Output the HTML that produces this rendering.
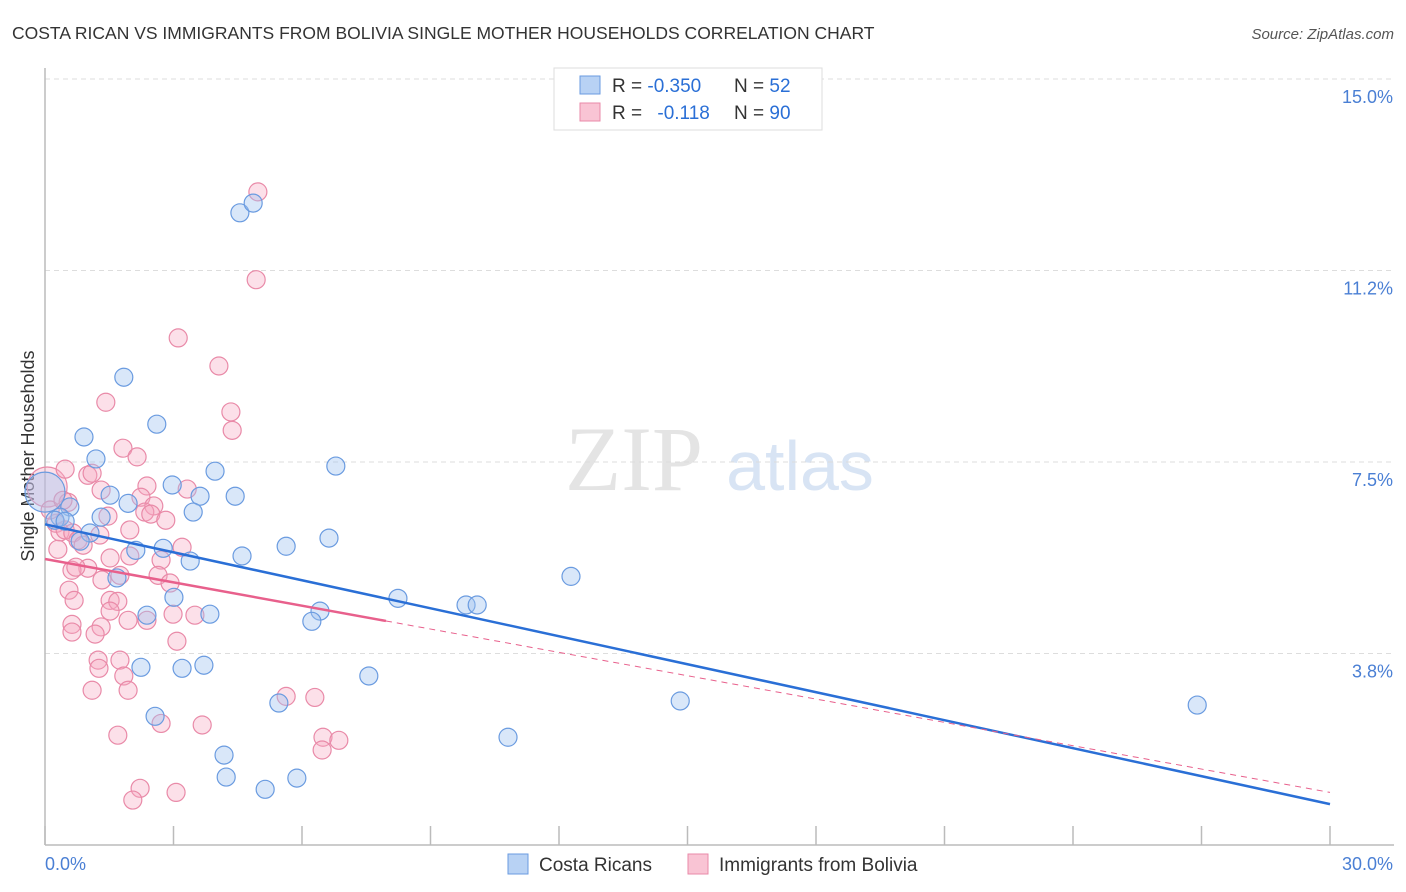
<!DOCTYPE html>
<html><head><meta charset="utf-8"><style>
body{margin:0;background:#fff;font-family:"Liberation Sans",sans-serif;}
#wrap{position:relative;width:1406px;height:892px;overflow:hidden;}
</style></head><body>
<div id="wrap">
<svg id="chart" width="1406" height="892">
<text x="12" y="39" font-size="17.5" fill="#333">COSTA RICAN VS IMMIGRANTS FROM BOLIVIA SINGLE MOTHER HOUSEHOLDS CORRELATION CHART</text>
<text x="1394" y="39" font-size="15" fill="#555" font-style="italic" text-anchor="end">Source: ZipAtlas.com</text>
<text x="634" y="490" font-size="92" fill="#e4e4e4" font-family="Liberation Serif,serif" text-anchor="middle">ZIP</text>
<text x="800" y="490" font-size="70" fill="#d8e4f4" text-anchor="middle">atlas</text>
<text transform="translate(34,456) rotate(-90)" font-size="18" fill="#333" text-anchor="middle">Single Mother Households</text>
<g id="grid"></g><g id="pts"></g><g id="lines"></g>
<g>
<rect x="554" y="68" width="268" height="62" fill="#fff" stroke="#ddd"/>
<rect x="580" y="76" width="20" height="18" fill="#b8d2f4" stroke="#6a9be0"/>
<rect x="580" y="103" width="20" height="18" fill="#f9c4d4" stroke="#e98aa8"/>
<text x="612" y="92" font-size="19" fill="#333">R = <tspan fill="#2a6fd6">-0.350</tspan></text>
<text x="734" y="92" font-size="19" fill="#333">N = <tspan fill="#2a6fd6">52</tspan></text>
<text x="612" y="119" font-size="19" fill="#333">R = <tspan fill="#2a6fd6" dx="10">-0.118</tspan></text>
<text x="734" y="119" font-size="19" fill="#333">N = <tspan fill="#2a6fd6">90</tspan></text>
</g>
<g>
<rect x="508" y="854" width="20" height="20" fill="#b8d2f4" stroke="#6a9be0"/>
<text x="539" y="871" font-size="19" fill="#333">Costa Ricans</text>
<rect x="688" y="854" width="20" height="20" fill="#f9c4d4" stroke="#e98aa8"/>
<text x="719" y="871" font-size="19" fill="#333">Immigrants from Bolivia</text>
</g>
</svg>
</div>
<script>
const yTicks=[3.75,7.5,11.25,15];
const yTickLabels=["3.8%","7.5%","11.2%","15.0%"];
const xTicks=[0,3,6,9,12,15,18,21,24,27,30];
const xEndLabels=["0.0%","30.0%"];
const costaX=[0,4.55,4.86,1.84,0.91,2.61,1.19,3.97,6.79,2.97,1.52,3.62,4.44,1.94,3.46,1.31,0.58,0.35,0.23,1.05,0.82,2.12,2.76,4.60,5.63,6.63,3.39,1.68,12.28,8.24,3.01,9.83,10.09,6.42,6.23,2.38,3.85,2.24,3.20,3.71,7.56,5.46,14.83,26.90,2.57,10.81,4.18,4.23,5.88,5.14,0.47];
const costaY=[6.91,12.38,12.57,9.16,7.99,8.24,7.56,7.32,7.42,7.05,6.85,6.83,6.83,6.69,6.52,6.42,6.62,6.42,6.36,6.11,5.95,5.77,5.81,5.66,5.85,6.01,5.56,5.23,5.26,4.83,4.85,4.70,4.70,4.58,4.38,4.50,4.52,3.48,3.46,3.52,3.31,2.78,2.82,2.74,2.52,2.11,1.76,1.33,1.31,1.09,6.34];
const bolX=[0.05,4.97,4.93,3.11,4.06,1.42,4.34,4.37,1.82,2.15,0.47,1.00,1.10,1.31,2.38,3.32,2.24,2.54,2.33,2.47,0.54,1.47,0.26,0.35,0.47,0.65,0.77,0.30,0.89,1.98,2.71,1.52,3.20,2.64,1.00,0.63,0.72,1.33,1.75,2.92,0.56,1.52,1.70,0.68,1.94,2.99,3.50,1.52,0.63,0.63,1.31,1.17,3.08,1.24,1.26,1.75,1.10,1.84,1.94,5.63,6.30,1.70,2.71,3.67,6.49,6.47,6.86,2.22,2.05,3.06,0.12,0.42,1.28,2.82,1.98,2.38];
const bolY=[7.01,12.79,11.07,9.93,9.38,8.67,8.48,8.12,7.77,7.60,7.36,7.24,7.28,6.95,7.03,6.97,6.81,6.64,6.52,6.48,6.71,6.44,6.30,6.13,6.17,6.11,5.97,5.79,5.87,6.17,5.58,5.62,5.83,5.28,5.42,5.38,5.44,5.19,5.28,5.13,4.99,4.79,4.77,4.79,4.40,4.52,4.50,4.58,4.32,4.17,4.27,4.13,3.99,3.62,3.46,3.62,3.03,3.31,3.03,2.91,2.89,2.15,2.38,2.35,2.11,1.86,2.05,1.11,0.88,1.03,6.56,6.75,6.07,6.36,5.66,4.40];
const costaTrend=[6.28,0.80];
const bolTrend=[5.60,1.03];
const bolSolidEnd=7.96;

const NS="http://www.w3.org/2000/svg";
const X0=45,X1=1330,Y0=845,Ytop=79;
const xs=v=>X0+(X1-X0)*v/30;
const ys=v=>Y0-(Y0-Ytop)*v/15;
function mk(tag,attrs,parent){const e=document.createElementNS(NS,tag);for(const k in attrs)e.setAttribute(k,attrs[k]);parent.appendChild(e);return e;}
const svg=document.getElementById('chart');
const grid=document.getElementById('grid');
yTicks.forEach((t,i)=>{
  const l=mk('line',{x1:X0,x2:1394,y1:ys(t),y2:ys(t),stroke:'#ddd','stroke-dasharray':'5,4'},grid);
  
  
  const tx=mk('text',{x:1393,y:ys(t)+24,'font-size':18,fill:'#4a7fd4','text-anchor':'end'},grid);
  tx.textContent=yTickLabels[i];
  
  
});
const ax=mk('line',{x1:X0,x2:X0,y1:68,y2:Y0,stroke:'#bbb','stroke-width':1.5},grid);


const bx=mk('line',{x1:X0,x2:1394,y1:Y0,y2:Y0,stroke:'#bbb','stroke-width':1.5},grid);


xTicks.forEach(t=>{
  const l=mk('line',{x1:xs(t),x2:xs(t),y1:826,y2:Y0,stroke:'#bbb','stroke-width':1.5},grid);
  
  
});
const xl0=mk('text',{x:45,y:870,'font-size':18,fill:'#4a7fd4'},grid);
xl0.textContent=xEndLabels[0];


const xl1=mk('text',{x:1393,y:870,'font-size':18,fill:'#4a7fd4','text-anchor':'end'},grid);
xl1.textContent=xEndLabels[1];



const pts=document.getElementById('pts');
bolX.forEach((x,i)=>{
  const c=mk('circle',{cx:xs(x),cy:ys(bolY[i]),r:i===0?20:9,fill:'rgba(245,165,192,0.35)',stroke:'#e98aa8','stroke-width':1.2},pts);
  
  
});
costaX.forEach((x,i)=>{
  const c=mk('circle',{cx:xs(x),cy:ys(costaY[i]),r:i===0?20:9,fill:'rgba(160,196,240,0.4)',stroke:'#6a9be0','stroke-width':1.2},pts);
  
  
});
const lines=document.getElementById('lines');
const bt=mk('line',{x1:xs(0),y1:ys(costaTrend[0]),x2:xs(30),y2:ys(costaTrend[1]),stroke:'#2a6fd6','stroke-width':2.5},lines);


const pyEnd=bolTrend[0]+(bolTrend[1]-bolTrend[0])*bolSolidEnd/30;
const ps=mk('line',{x1:xs(0),y1:ys(bolTrend[0]),x2:xs(bolSolidEnd),y2:ys(pyEnd),stroke:'#e8608c','stroke-width':2.5},lines);


const pd=mk('line',{x1:xs(bolSolidEnd),y1:ys(pyEnd),x2:xs(30),y2:ys(bolTrend[1]),stroke:'#e8608c','stroke-width':1,'stroke-dasharray':'6,5'},lines);


</script>
</body></html>
